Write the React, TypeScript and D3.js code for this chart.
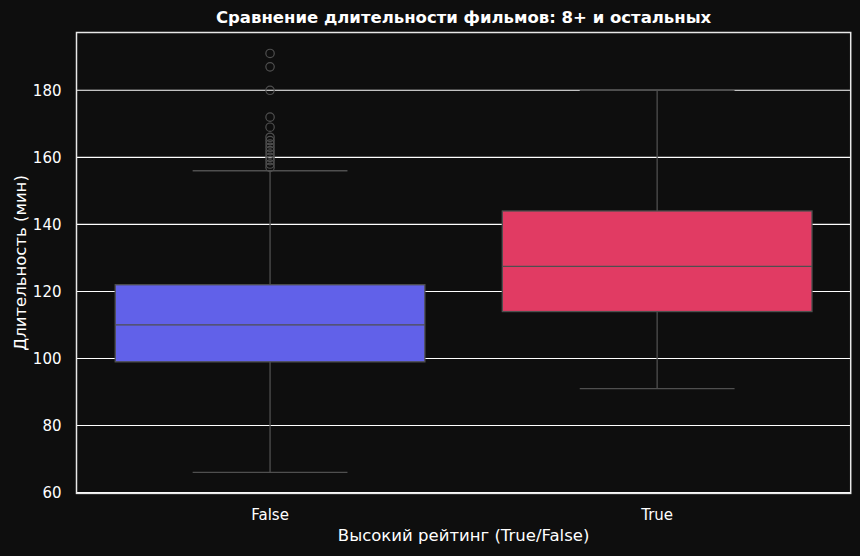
import React from "react";
import * as d3 from "d3";

const categories = ["False", "True"];
const q1Values = [99, 114];
const medianValues = [110, 127.5];
const q3Values = [122, 144];
const whiskerLowValues = [66, 91];
const whiskerHighValues = [156, 180];
const outliersFalse = [157, 158, 159, 160, 161, 162, 163, 164, 165, 166, 169, 172, 180, 187, 191];
const outliersTrue: number[] = [];
const yTicks = [60, 80, 100, 120, 140, 160, 180];
const boxColors = ["#6161E9", "#E13B63"];

const W = 860;
const H = 556;
const M = { left: 76.5, right: 850.7, top: 32.5, bottom: 493.4 };
const BG = "#0e0e0e";
const EDGE = "#4f4f4f";
const FONT = "DejaVu Sans, sans-serif";

export default function App() {
  const x = d3.scaleBand<string>().domain(categories).range([M.left, M.right]).padding(0);
  const y = d3.scaleLinear().domain([59.75, 197.25]).range([M.bottom, M.top]);
  const bw = x.bandwidth() * 0.8;
  const outliers = [outliersFalse, outliersTrue];

  return (
    <svg
      width={W}
      height={H}
      style={{ position: "absolute", left: 0, top: 0, background: BG }}
      fontFamily={FONT}
    >
      <rect x={0} y={0} width={W} height={H} fill={BG} />
      {/* grid */}
      {yTicks.map((t) => (
        <line key={"g" + t} x1={M.left} x2={M.right} y1={y(t)} y2={y(t)} stroke="#ffffff" strokeWidth={1.1} />
      ))}
      {/* boxes */}
      {categories.map((c, i) => {
        const cx = (x(c) as number) + x.bandwidth() / 2;
        return (
          <g key={c}>
            <line x1={cx} x2={cx} y1={y(q3Values[i])} y2={y(whiskerHighValues[i])} stroke={EDGE} strokeWidth={1.3} />
            <line x1={cx} x2={cx} y1={y(q1Values[i])} y2={y(whiskerLowValues[i])} stroke={EDGE} strokeWidth={1.3} />
            <line x1={cx - bw / 4} x2={cx + bw / 4} y1={y(whiskerHighValues[i])} y2={y(whiskerHighValues[i])} stroke={EDGE} strokeWidth={1.3} />
            <line x1={cx - bw / 4} x2={cx + bw / 4} y1={y(whiskerLowValues[i])} y2={y(whiskerLowValues[i])} stroke={EDGE} strokeWidth={1.3} />
            <rect
              x={cx - bw / 2}
              y={y(q3Values[i])}
              width={bw}
              height={y(q1Values[i]) - y(q3Values[i])}
              fill={boxColors[i]}
              stroke={EDGE}
              strokeWidth={1.3}
            />
            <line x1={cx - bw / 2} x2={cx + bw / 2} y1={y(medianValues[i])} y2={y(medianValues[i])} stroke={EDGE} strokeWidth={1.3} />
            {outliers[i].map((v, k) => (
              <circle key={k} cx={cx} cy={y(v)} r={4.2} fill="none" stroke={EDGE} strokeWidth={1.2} />
            ))}
          </g>
        );
      })}
      {/* spines */}
      <rect x={M.left} y={M.top} width={M.right - M.left} height={M.bottom - M.top} fill="none" stroke="#e8e8e8" strokeWidth={1.5} />
      {/* y tick labels */}
      {yTicks.map((t) => (
        <text key={"t" + t} x={61.5} y={y(t) + 5.5} textAnchor="end" fill="#ffffff" fontSize={15}>
          {t}
        </text>
      ))}
      {/* x tick labels */}
      {categories.map((c) => (
        <text key={"x" + c} x={(x(c) as number) + x.bandwidth() / 2} y={519.5} textAnchor="middle" fill="#ffffff" fontSize={15}>
          {c}
        </text>
      ))}
      <text x={(M.left + M.right) / 2} y={541} textAnchor="middle" fill="#ffffff" fontSize={16.5}>
        Высокий рейтинг (True/False)
      </text>
      <text
        transform={`translate(25.5,${(M.top + M.bottom) / 2}) rotate(-90)`}
        textAnchor="middle"
        fill="#ffffff"
        fontSize={16.5}
      >
        Длительность (мин)
      </text>
      <text x={(M.left + M.right) / 2} y={23} textAnchor="middle" fill="#ffffff" fontSize={16.5} fontWeight="bold">
        Сравнение длительности фильмов: 8+ и остальных
      </text>
    </svg>
  );
}
